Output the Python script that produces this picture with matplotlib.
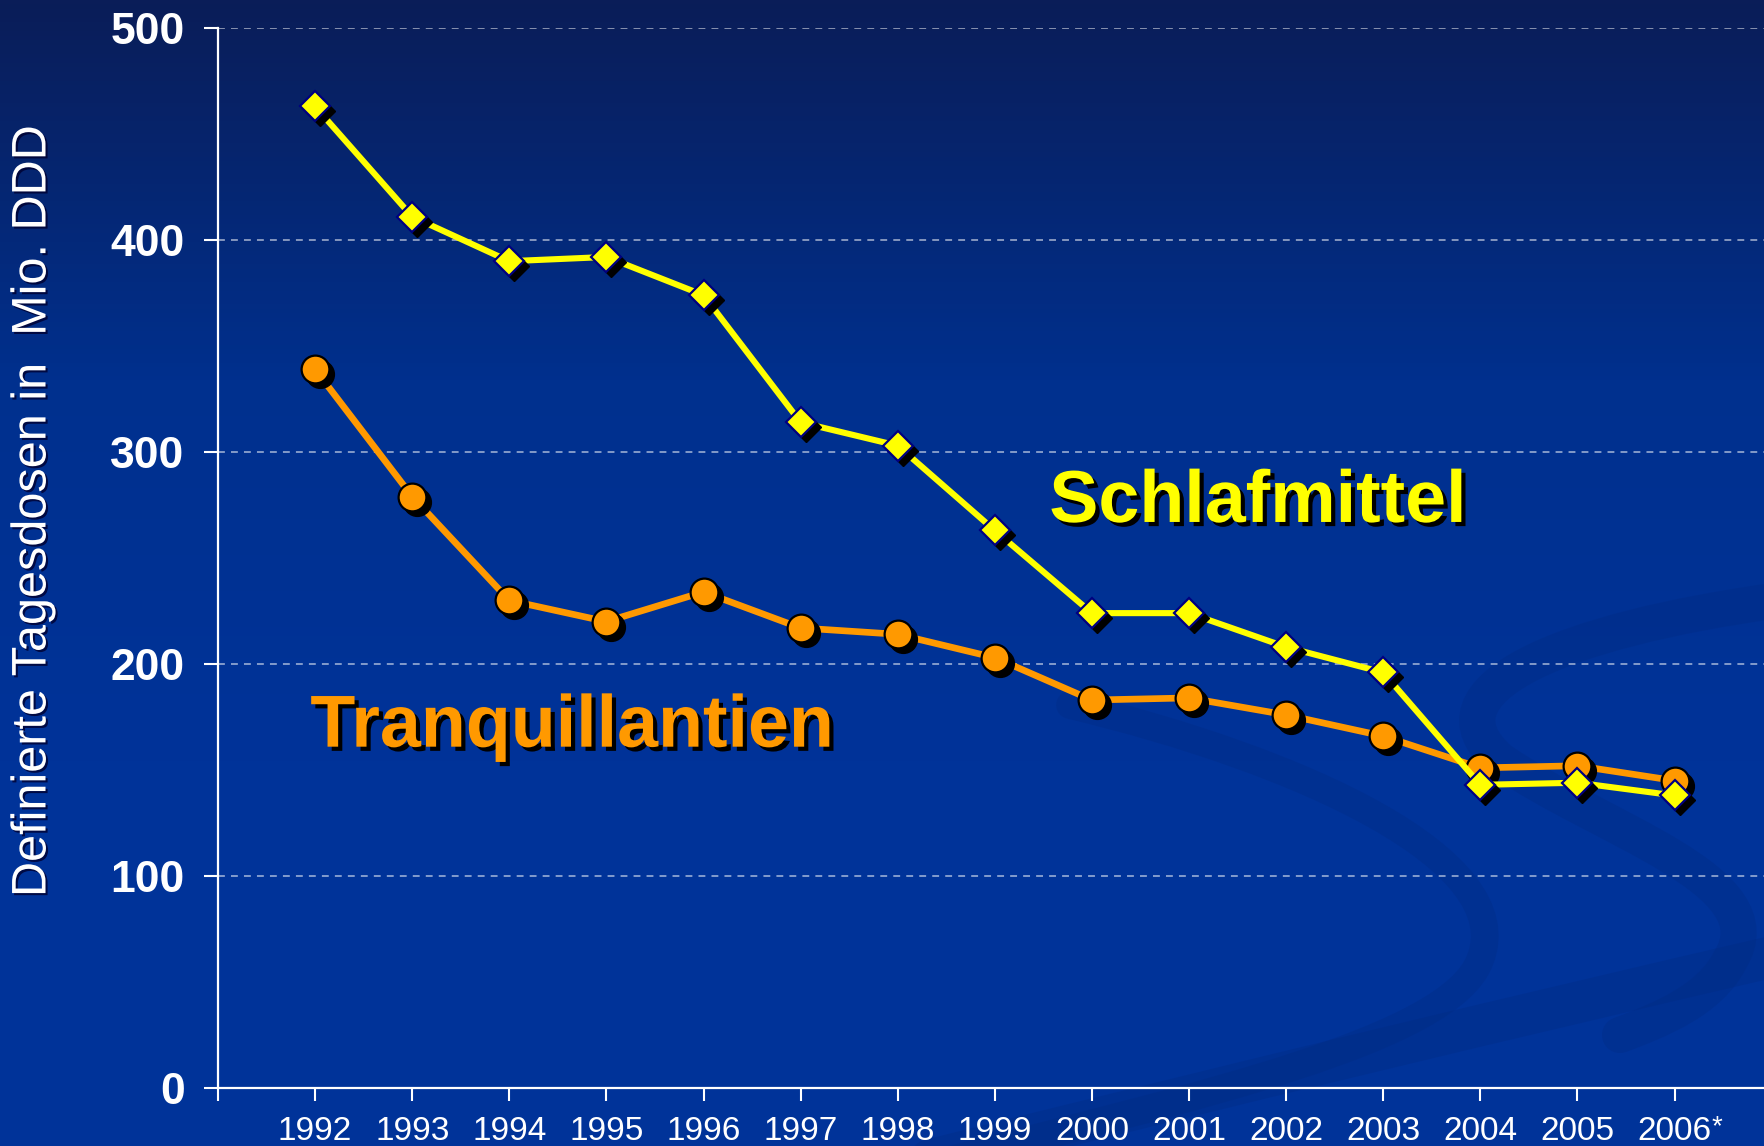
import numpy as np
import matplotlib
matplotlib.use("Agg")
import matplotlib.pyplot as plt
import matplotlib.patheffects as pe
from matplotlib.path import Path
from matplotlib.patches import PathPatch
from matplotlib.colors import LinearSegmentedColormap
from matplotlib.transforms import ScaledTranslation

plt.rcParams['font.family'] = ['Liberation Sans', 'DejaVu Sans']

years = [1992, 1993, 1994, 1995, 1996, 1997, 1998, 1999,
         2000, 2001, 2002, 2003, 2004, 2005, 2006]
year_labels = ['1992', '1993', '1994', '1995', '1996', '1997', '1998', '1999',
               '2000', '2001', '2002', '2003', '2004', '2005', '2006']
schlafmittel = [463, 411, 390, 392, 374, 314, 303, 263,
                224, 224, 208, 196, 143, 144, 138]
tranquillantien = [339, 279, 230, 220, 234, 217, 214, 203,
                   183, 184, 176, 166, 151, 152, 145]
y_ticks = [0, 100, 200, 300, 400, 500]

W, H = 1764, 1146
fig = plt.figure(figsize=(W / 100, H / 100), dpi=100)

# background: vertical gradient + faint swirl bands
bg = fig.add_axes([0, 0, 1, 1])
bg.set_axis_off()
cmap = LinearSegmentedColormap.from_list('bg', ['#0a1d58', '#00308e', '#003399', '#003399'])
grad = np.linspace(0, 1, 256).reshape(-1, 1)
bg.imshow(grad, cmap=cmap, extent=[0, W, H, 0], aspect='auto')
bg.set_xlim(0, W)
bg.set_ylim(H, 0)

C, M = Path.CURVE4, Path.MOVETO
bands = [
    ([(930, 1160), (1250, 1080), (1500, 1020), (1780, 955)], [M, C, C, C], 30),
    ([(1070, 705), (1300, 760), (1520, 860), (1480, 960),
      (1450, 1040), (1200, 1095), (950, 1160)], [M, C, C, C, C, C, C], 20),
    ([(1780, 600), (1560, 630), (1420, 690), (1500, 760),
      (1600, 830), (1780, 880), (1730, 960),
      (1710, 1000), (1660, 1020), (1620, 1035)], [M, C, C, C, C, C, C, C, C, C], 26),
]
for verts, codes, lw in bands:
    bg.add_patch(PathPatch(Path(verts, codes), fill=False, lw=lw,
                           edgecolor='#002a80', alpha=0.3, capstyle='round'))

# main chart
x0, x1 = 218, W
ax = fig.add_axes([x0 / W, (H - 1088) / H, (x1 - x0) / W, (1088 - 28) / H])
ax.set_facecolor('none')
ax.set_xlim(1991, 1991 + (x1 - x0) / 97.1)
ax.set_ylim(0, 500)

for s in ['top', 'right']:
    ax.spines[s].set_visible(False)
for s in ['left', 'bottom']:
    ax.spines[s].set_color('white')
    ax.spines[s].set_linewidth(1.6)

ax.set_yticks(y_ticks)
ax.set_yticklabels([str(v) for v in y_ticks])
ax.tick_params(axis='y', colors='white', length=10, width=1.5, pad=14,
               labelsize=32)
for lab in ax.get_yticklabels():
    lab.set_fontweight('bold')
ax.set_xticks([1991] + years)
ax.set_xticklabels([''] + year_labels)
ax.tick_params(axis='x', colors='white', length=9, width=1.5, pad=11,
               labelsize=24)

for v in y_ticks[1:]:
    ax.axhline(v, color='white', alpha=0.65, lw=1.1, dashes=(4.5, 4), zorder=1)

shadow = ax.transData + ScaledTranslation(5 / 100, -5 / 100, fig.dpi_scale_trans)

ax.plot(years, tranquillantien, color='#ff9900', lw=4.8, zorder=3,
        solid_capstyle='round', solid_joinstyle='round')
ax.plot(years, tranquillantien, ls='none', marker='o', ms=20, color='black',
        transform=shadow, zorder=3)
ax.plot(years, tranquillantien, ls='none', marker='o', ms=20,
        markerfacecolor='#ff9900', markeredgecolor='black', markeredgewidth=1.6,
        zorder=4)

ax.plot(years, schlafmittel, color='#ffff00', lw=4.4, zorder=5,
        solid_capstyle='round', solid_joinstyle='round')
ax.plot(years, schlafmittel, ls='none', marker='D', ms=15, color='black',
        transform=shadow, zorder=5)
ax.plot(years, schlafmittel, ls='none', marker='D', ms=15,
        markerfacecolor='#ffff00', markeredgecolor='#000080', markeredgewidth=1.6,
        zorder=6)

txt_fx = [pe.withSimplePatchShadow(offset=(3, -3), shadow_rgbFace='black', alpha=1)]
ax.text(2001.71, 267, 'Schlafmittel', color='#ffff00', fontsize=53,
        fontweight='bold', ha='center', va='baseline', path_effects=txt_fx,
        zorder=7)
ax.text(1994.65, 161, 'Tranquillantien', color='#ff9900', fontsize=53,
        fontweight='bold', ha='center', va='baseline', path_effects=txt_fx,
        zorder=7)

ax.annotate('*', xy=(2006, 0), xytext=(37, -26), textcoords='offset pixels',
            color='white', fontsize=20, ha='left', va='top',
            annotation_clip=False)

fig.text(33 / W, 1 - 511 / H, 'Definierte Tagesdosen in  Mio. DDD',
         rotation=90, color='white', fontsize=35, ha='center', va='center',
         path_effects=[pe.withSimplePatchShadow(offset=(1.5, -1.5),
                                                shadow_rgbFace='#000030', alpha=0.8)])

fig.savefig('out.png', dpi=100)
